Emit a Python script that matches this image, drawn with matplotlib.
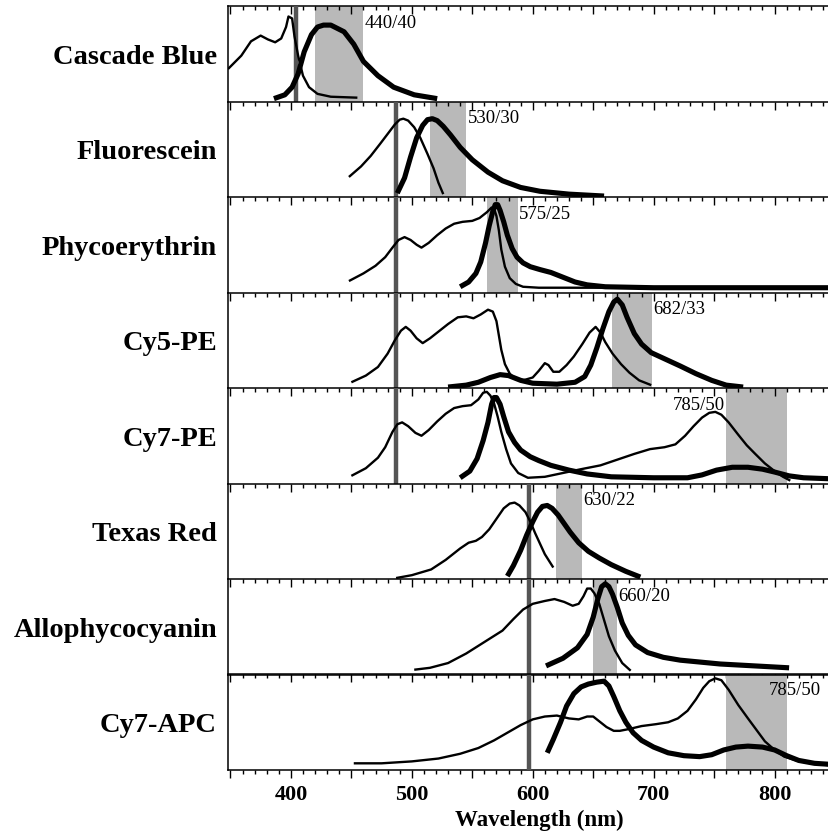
import matplotlib
matplotlib.use("Agg")
import matplotlib.pyplot as plt
from matplotlib.ticker import MultipleLocator

# ---------------- data ----------------
dyes = ["Cascade Blue", "Fluorescein", "Phycoerythrin", "Cy5-PE",
        "Cy7-PE", "Texas Red", "Allophycocyanin", "Cy7-APC"]

cb_ex_nm = [348, 359, 367, 375, 381, 387, 392, 396, 398, 401, 403, 406, 410, 415, 422, 433, 455]
cb_ex = [0.34, 0.48, 0.63, 0.69, 0.65, 0.62, 0.66, 0.78, 0.89, 0.87, 0.68, 0.48, 0.27, 0.15, 0.08, 0.05, 0.04]
cb_em_nm = [386, 395, 401, 406, 411, 417, 422, 427, 433, 444, 452, 460, 472, 485, 502, 521]
cb_em = [0.03, 0.07, 0.15, 0.29, 0.52, 0.70, 0.78, 0.80, 0.80, 0.73, 0.60, 0.42, 0.27, 0.15, 0.07, 0.03]

fl_ex_nm = [448, 458, 466, 474, 480, 486, 490, 493, 497, 502, 507, 513, 518, 522, 526]
fl_ex = [0.21, 0.32, 0.43, 0.56, 0.66, 0.76, 0.81, 0.82, 0.80, 0.73, 0.62, 0.45, 0.30, 0.15, 0.03]
fl_em_nm = [488, 494, 499, 504, 509, 513, 517, 521, 526, 532, 540, 550, 563, 575, 590, 606, 630, 659]
fl_em = [0.04, 0.20, 0.42, 0.62, 0.75, 0.81, 0.82, 0.80, 0.74, 0.65, 0.52, 0.39, 0.26, 0.17, 0.10, 0.06, 0.03, 0.01]

pe_ex_nm = [448, 460, 470, 478, 484, 489, 494, 499, 504, 508, 514, 521, 528, 535, 542, 550, 556,
            562, 566, 568, 570, 572, 574, 577, 581, 586, 592, 605, 845]
pe_ex = [0.12, 0.20, 0.28, 0.37, 0.47, 0.55, 0.58, 0.55, 0.50, 0.47, 0.52, 0.60, 0.67, 0.72, 0.74, 0.75, 0.78,
         0.84, 0.89, 0.88, 0.80, 0.65, 0.45, 0.27, 0.15, 0.09, 0.06, 0.05, 0.05]
pe_em_nm = [540, 547, 553, 557, 561, 564, 567, 569, 571, 573, 576, 579, 583, 587, 592, 598, 606, 615,
            625, 635, 645, 660, 700, 845]
pe_em = [0.06, 0.11, 0.20, 0.32, 0.52, 0.70, 0.85, 0.92, 0.92, 0.86, 0.74, 0.60, 0.46, 0.37, 0.31, 0.27, 0.24, 0.21,
         0.16, 0.11, 0.08, 0.06, 0.05, 0.05]

c5_ex_nm = [450, 462, 472, 480, 486, 491, 495, 499, 504, 509, 515, 521, 530, 538, 545, 551, 557, 563, 567,
            570, 572, 574, 577, 581, 586, 592, 600, 605, 610, 613, 617, 622, 628, 634, 641, 647, 652, 656,
            660, 666, 673, 680, 688, 698]
c5_ex = [0.06, 0.13, 0.22, 0.36, 0.50, 0.60, 0.64, 0.60, 0.52, 0.47, 0.52, 0.58, 0.67, 0.74, 0.75, 0.73, 0.77, 0.82, 0.80,
         0.70, 0.55, 0.40, 0.25, 0.15, 0.09, 0.08, 0.11, 0.18, 0.26, 0.24, 0.17, 0.17, 0.24, 0.33, 0.46, 0.58, 0.64, 0.58,
         0.48, 0.36, 0.25, 0.16, 0.08, 0.03]
c5_em_nm = [530, 545, 555, 565, 573, 580, 590, 600, 620, 635, 643, 648, 653, 658, 663, 667, 670, 674, 678,
            684, 690, 698, 710, 722, 735, 748, 760, 774]
c5_em = [0.01, 0.03, 0.06, 0.11, 0.14, 0.13, 0.08, 0.05, 0.04, 0.06, 0.12, 0.24, 0.42, 0.62, 0.80, 0.90, 0.93, 0.87, 0.74,
         0.57, 0.46, 0.37, 0.30, 0.23, 0.15, 0.08, 0.03, 0.01]

c7pe_ex_nm = [450, 462, 472, 478, 484, 488, 492, 497, 503, 508, 514, 521, 528, 535, 542, 549, 555, 559, 562,
              565, 568, 571, 574, 578, 582, 588, 596, 610, 625, 640, 656, 670, 684, 697, 709, 718, 726, 733,
              740, 746, 751, 756, 762, 770, 777, 784, 792, 800, 807, 813]
c7pe_ex = [0.08, 0.16, 0.27, 0.38, 0.54, 0.62, 0.64, 0.60, 0.53, 0.50, 0.56, 0.65, 0.73, 0.79, 0.81, 0.82, 0.88, 0.95, 0.96,
           0.92, 0.84, 0.70, 0.54, 0.36, 0.21, 0.11, 0.06, 0.07, 0.11, 0.15, 0.19, 0.25, 0.31, 0.36, 0.38, 0.41, 0.50, 0.60,
           0.69, 0.74, 0.75, 0.72, 0.64, 0.51, 0.40, 0.31, 0.21, 0.13, 0.07, 0.03]
c7pe_em_nm = [540, 548, 554, 559, 563, 566, 568, 570, 573, 576, 580, 585, 590, 598, 605, 615, 630, 645, 665,
              700, 728, 740, 752, 765, 778, 790, 800, 812, 824, 845]
c7pe_em = [0.06, 0.13, 0.26, 0.45, 0.64, 0.83, 0.90, 0.90, 0.83, 0.70, 0.54, 0.43, 0.35, 0.28, 0.24, 0.19, 0.14, 0.10, 0.07,
           0.06, 0.06, 0.09, 0.14, 0.17, 0.17, 0.15, 0.12, 0.08, 0.06, 0.05]

tr_ex_nm = [487, 500, 516, 528, 540, 547, 553, 558, 564, 570, 576, 581, 585, 589, 594, 598, 602, 606, 610, 614, 617]
tr_ex = [0.01, 0.04, 0.10, 0.20, 0.32, 0.38, 0.40, 0.44, 0.52, 0.63, 0.74, 0.79, 0.80, 0.77, 0.70, 0.60, 0.48, 0.37,
         0.26, 0.18, 0.12]
tr_em_nm = [579, 584, 590, 595, 600, 604, 608, 612, 616, 621, 626, 631, 638, 646, 655, 665, 677, 689]
tr_em = [0.03, 0.14, 0.30, 0.46, 0.60, 0.70, 0.76, 0.77, 0.74, 0.67, 0.58, 0.49, 0.38, 0.29, 0.22, 0.15, 0.08, 0.02]

apc_ex_nm = [502, 515, 530, 545, 560, 575, 584, 592, 600, 610, 618, 626, 633, 638, 642, 645, 648, 651,
             655, 659, 663, 668, 674, 681]
apc_ex = [0.05, 0.07, 0.12, 0.22, 0.34, 0.46, 0.58, 0.68, 0.74, 0.77, 0.79, 0.76, 0.72, 0.74, 0.82, 0.90, 0.90, 0.85,
          0.74, 0.57, 0.40, 0.25, 0.12, 0.04]
apc_em_nm = [611, 625, 637, 645, 650, 654, 657, 660, 663, 666, 670, 674, 679, 685, 695, 708, 722, 755, 812]
apc_em = [0.09, 0.17, 0.28, 0.42, 0.60, 0.80, 0.92, 0.95, 0.92, 0.84, 0.70, 0.54, 0.41, 0.31, 0.23, 0.18, 0.15, 0.11, 0.07]

c7apc_ex_nm = [452, 475, 500, 522, 540, 555, 568, 579, 590, 600, 610, 620, 630, 638, 645, 650, 655, 661,
               667, 672, 680, 690, 702, 712, 720, 728, 735, 741, 746, 751, 756, 762, 770, 778, 785, 792,
               800, 808, 818, 830, 845]
c7apc_ex = [0.07, 0.07, 0.09, 0.12, 0.17, 0.23, 0.31, 0.39, 0.47, 0.53, 0.56, 0.57, 0.54, 0.53, 0.56, 0.56, 0.51, 0.45,
            0.41, 0.41, 0.43, 0.46, 0.48, 0.50, 0.54, 0.62, 0.74, 0.86, 0.93, 0.96, 0.94, 0.84, 0.68, 0.54, 0.42, 0.30,
            0.21, 0.14, 0.10, 0.07, 0.05]
c7apc_em_nm = [612, 617, 623, 628, 634, 640, 646, 653, 659, 663, 667, 672, 677, 683, 690, 700, 712, 725,
               738, 748, 758, 768, 778, 790, 800, 810, 820, 833, 845]
c7apc_em = [0.18, 0.32, 0.50, 0.67, 0.80, 0.87, 0.90, 0.92, 0.93, 0.88, 0.77, 0.62, 0.50, 0.39, 0.31, 0.24, 0.18, 0.15,
            0.14, 0.16, 0.21, 0.24, 0.25, 0.24, 0.21, 0.15, 0.10, 0.07, 0.06]

excitation = [(cb_ex_nm, cb_ex), (fl_ex_nm, fl_ex), (pe_ex_nm, pe_ex), (c5_ex_nm, c5_ex),
              (c7pe_ex_nm, c7pe_ex), (tr_ex_nm, tr_ex), (apc_ex_nm, apc_ex), (c7apc_ex_nm, c7apc_ex)]
emission = [(cb_em_nm, cb_em), (fl_em_nm, fl_em), (pe_em_nm, pe_em), (c5_em_nm, c5_em),
            (c7pe_em_nm, c7pe_em), (tr_em_nm, tr_em), (apc_em_nm, apc_em), (c7apc_em_nm, c7apc_em)]

filter_center = [440, 530, 575, 682, 785, 630, 660, 785]
filter_width = [40, 30, 25, 33, 50, 22, 20, 50]
filter_labels = ["440/40", "530/30", "575/25", "682/33", "785/50", "630/22", "660/20", "785/50"]

laser_nm = [404, 487, 597]
laser_panels = [[0], [1, 2, 3, 4], [5, 6, 7]]

xticks = [400, 500, 600, 700, 800]

# ---------------- figure ----------------
fig = plt.figure(figsize=(8.29, 8.32), dpi=100)
left, right = 228 / 829, 1.0
top, bottom = 1 - 6 / 832, 1 - 770 / 832
n = len(dyes)
h = (top - bottom) / n
serif = ["Liberation Serif", "DejaVu Serif"]

axes = []
for i in range(n):
    ax = fig.add_axes([left, top - (i + 1) * h, right - left, h])
    axes.append(ax)
    ax.set_xlim(348, 845)
    ax.set_ylim(0, 1)
    ax.set_yticks([])
    ax.spines["right"].set_visible(False)
    for s in ("left", "top", "bottom"):
        ax.spines[s].set_linewidth(1.1)

    c, w = filter_center[i], filter_width[i]
    ax.axvspan(c - w / 2, c + w / 2, color="#b9b9b9", lw=0, zorder=1)

    ex_x, ex_y = excitation[i]
    em_x, em_y = emission[i]
    ax.plot(ex_x, ex_y, color="black", lw=1.7, solid_joinstyle="round",
            solid_capstyle="butt", zorder=4)
    ax.plot(em_x, em_y, color="black", lw=3.7, solid_joinstyle="round",
            solid_capstyle="butt", zorder=4)

    # filter label
    if i == 4:
        ax.text(c - w / 2 - 1, 0.82, filter_labels[i], ha="right", va="center",
                fontsize=13.5, family=serif, zorder=5)
    elif i == 7:
        ax.text(c + 10, 0.83, filter_labels[i], ha="left", va="center",
                fontsize=13.5, family=serif, zorder=5)
    else:
        ax.text(c + w / 2 + 1, 0.82, filter_labels[i], ha="left", va="center",
                fontsize=13.5, family=serif, zorder=5)

    # dye name
    fig.text(217 / 829, top - (i + 0.5) * h - 0.004, dyes[i], ha="right", va="center",
             fontsize=20.5, fontweight="bold", family=serif)

    ax.xaxis.set_major_locator(MultipleLocator(50))
    ax.xaxis.set_minor_locator(MultipleLocator(10))
    if i < n - 1:
        ax.tick_params(axis="x", which="both", bottom=False, top=True, direction="in",
                       labelbottom=False, width=1.0)
        ax.tick_params(axis="x", which="major", length=6)
        ax.tick_params(axis="x", which="minor", length=3)
        ax.spines["bottom"].set_visible(False)
    else:
        ax.set_xticks(list(range(350, 846, 50)))
        ax.set_xticklabels([str(t) if t in xticks else "" for t in range(350, 846, 50)])
        ax.tick_params(axis="x", which="both", bottom=True, top=False, direction="out",
                       width=1.0, pad=5)
        ax.tick_params(axis="x", which="major", length=6)
        ax.tick_params(axis="x", which="minor", length=3)
        for lab in ax.get_xticklabels():
            lab.set_fontfamily(serif)
            lab.set_fontweight("bold")
            lab.set_fontsize(16)
        sec = ax.secondary_xaxis("top")
        sec.xaxis.set_major_locator(MultipleLocator(50))
        sec.xaxis.set_minor_locator(MultipleLocator(10))
        sec.tick_params(axis="x", which="both", direction="in", labeltop=False, width=1.0)
        sec.tick_params(axis="x", which="major", length=6)
        sec.tick_params(axis="x", which="minor", length=3)
        sec.spines["top"].set_linewidth(1.1)

# laser lines
for nm, panels in zip(laser_nm, laser_panels):
    for p in panels:
        axes[p].axvline(nm, color="#555555", lw=3.2, zorder=3)

fig.text(539 / 829, 1 - 820 / 832, "Wavelength (nm)", ha="center", va="center",
         fontsize=16.5, fontweight="bold", family=serif)

fig.savefig("out.png", dpi=100)
